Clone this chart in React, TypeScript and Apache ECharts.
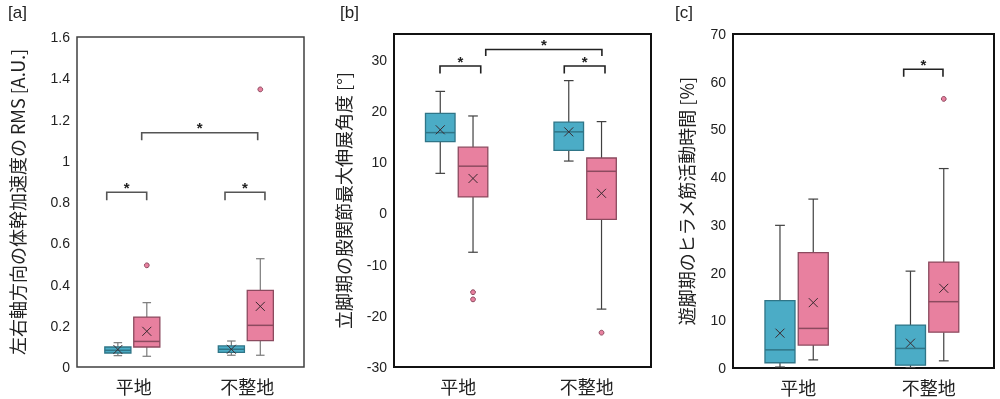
import React, { useEffect, useRef } from "react";
import * as echarts from "echarts";

const categories = ["平地", "不整地"];

// each row: [low whisker, Q1, median, Q3, high whisker, mean]
const rmsFlat = [0.055, 0.068, 0.081, 0.097, 0.118, 0.085];
const rmsFlatB = [0.052, 0.097, 0.124, 0.242, 0.312, 0.173];
const rmsRough = [0.057, 0.071, 0.086, 0.102, 0.126, 0.086];
const rmsRoughB = [0.057, 0.128, 0.202, 0.372, 0.525, 0.294];
const rmsBlue = [rmsFlat, rmsRough];
const rmsPink = [rmsFlatB, rmsRoughB];
const rmsPinkOutliers = [[0, 0.493], [1, 1.346]];

const hipBlue = [
  [7.8, 14.0, 15.75, 19.5, 23.8, 16.3],
  [10.2, 12.3, 15.9, 17.8, 25.9, 15.9],
];
const hipPink = [
  [-7.6, 3.2, 9.2, 12.9, 19.0, 6.8],
  [-18.7, -1.2, 8.2, 10.8, 17.9, 3.9],
];
const hipPinkOutliers = [[0, -15.4], [0, -16.8], [1, -23.3]];

const solBlue = [
  [0.2, 1.1, 3.8, 14.1, 29.9, 7.3],
  [0.1, 0.6, 4.1, 9.0, 20.3, 5.2],
];
const solPink = [
  [1.7, 4.8, 8.3, 24.2, 35.4, 13.7],
  [1.5, 7.5, 13.9, 22.2, 41.8, 16.7],
];
const solPinkOutliers = [[1, 56.4]];

// significance brackets: [startCat, startOffset, endCat, endOffset, top, tickEnd]
const rmsBrackets = [
  [0, -0.238, 0, 0.114, 0.847, 0.808],
  [1, -0.196, 1, 0.156, 0.847, 0.808],
  [0, 0.07, 1, 0.092, 1.136, 1.1],
];
const hipBrackets = [
  [0, -0.142, 0, 0.175, 28.75, 27.3],
  [1, -0.175, 1, 0.142, 28.75, 27.3],
  [0, 0.214, 1, 0.118, 31.96, 30.7],
];
const solBrackets = [[1, -0.192, 1, 0.109, 62.6, 61.05]];

const yNames = [
  "左右軸方向の体幹加速度の RMS [A.U.]",
  "立脚期の股関節最大伸展角度 [°]",
  "遊脚期のヒラメ筋活動時間 [%]",
];
const panelLabels = ["[a]", "[b]", "[c]"];

const BLUE = "#4BACC6";
const BLUE_EDGE = "#2F7587";
const PINK = "#E8809F";
const PINK_EDGE = "#8C4A5F";
const BOX_W = 0.23;
const CAP_W = 0.075;
const OFF_BLUE = -0.14;
const OFF_PINK = 0.115;

function makeBox(off: number, fill: string, edge: string, whisker: string) {
  return (params: any, api: any) => {
    const cat = api.value(0);
    const band = api.size([1, 0])[0];
    const cx = api.coord([cat, 0])[0] + off * band;
    const w = BOX_W * band;
    const cap = CAP_W * band;
    const py = (i: number) => api.coord([cat, api.value(i)])[1];
    const lo = py(1), q1 = py(2), md = py(3), q3 = py(4), hi = py(5), mn = py(6);
    const ls = { stroke: whisker, lineWidth: 1.2 };
    const xs = { stroke: "#3a2a30", lineWidth: 1 };
    return {
      type: "group",
      children: [
        { type: "line", shape: { x1: cx, y1: hi, x2: cx, y2: q3 }, style: ls },
        { type: "line", shape: { x1: cx - cap / 2, y1: hi, x2: cx + cap / 2, y2: hi }, style: ls },
        { type: "line", shape: { x1: cx, y1: q1, x2: cx, y2: lo }, style: ls },
        { type: "line", shape: { x1: cx - cap / 2, y1: lo, x2: cx + cap / 2, y2: lo }, style: ls },
        { type: "rect", shape: { x: cx - w / 2, y: q3, width: w, height: q1 - q3 }, style: { fill, stroke: edge, lineWidth: 1.3 } },
        { type: "line", shape: { x1: cx - w / 2, y1: md, x2: cx + w / 2, y2: md }, style: { stroke: edge, lineWidth: 1.5 } },
        { type: "line", shape: { x1: cx - 4.5, y1: mn - 4.5, x2: cx + 4.5, y2: mn + 4.5 }, style: xs },
        { type: "line", shape: { x1: cx - 4.5, y1: mn + 4.5, x2: cx + 4.5, y2: mn - 4.5 }, style: xs },
      ],
    };
  };
}

function makeOutlier(off: number) {
  return (params: any, api: any) => {
    const cat = api.value(0);
    const band = api.size([1, 0])[0];
    const p = api.coord([cat, api.value(1)]);
    return {
      type: "circle",
      shape: { cx: p[0] + off * band, cy: p[1], r: 2.4 },
      style: { fill: PINK, stroke: PINK_EDGE, lineWidth: 1 },
    };
  };
}

function makeBracket(color: string) {
  return (params: any, api: any) => {
    const band = api.size([1, 0])[0];
    const x1 = api.coord([api.value(0), 0])[0] + api.value(1) * band;
    const x2 = api.coord([api.value(2), 0])[0] + api.value(3) * band;
    const yt = api.coord([api.value(0), api.value(4)])[1];
    const yb = api.coord([api.value(0), api.value(5)])[1];
    return {
      type: "group",
      children: [
        {
          type: "polyline",
          shape: { points: [[x1, yb], [x1, yt], [x2, yt], [x2, yb]] },
          style: { stroke: color, lineWidth: 1.6, fill: null },
        },
        {
          type: "text",
          style: {
            text: "*",
            x: (x1 + x2) / 2,
            y: yt - 5,
            align: "center",
            verticalAlign: "middle",
            fontSize: 15,
            fontWeight: "bold",
            fontFamily: "Liberation Sans",
            fill: "#222",
          },
        },
      ],
    };
  };
}

export default function App() {
  const ref = useRef<HTMLDivElement>(null);
  useEffect(() => {
    if (!ref.current) return;
    const chart = echarts.init(ref.current, null, { renderer: "svg" });
    const grids = [
      { left: 77, top: 37, width: 227, height: 330, show: true, borderColor: "#404040", borderWidth: 1.5 },
      { left: 394, top: 34, width: 257, height: 333, show: true, borderColor: "#111", borderWidth: 2 },
      { left: 733, top: 34, width: 261, height: 334, show: true, borderColor: "#111", borderWidth: 2 },
    ];
    const yCfg = [
      { min: 0, max: 1.6, interval: 0.2, gap: 51 },
      { min: -30, max: 35, interval: 10, gap: 42 },
      { min: 0, max: 70, interval: 10, gap: 38 },
    ];
    const blues = [rmsBlue, hipBlue, solBlue];
    const pinks = [rmsPink, hipPink, solPink];
    const outs = [rmsPinkOutliers, hipPinkOutliers, solPinkOutliers];
    const brs = [rmsBrackets, hipBrackets, solBrackets];
    const whisk = ["#7a7a7a", "#404040", "#404040"];
    const brColor = ["#555", "#222", "#222"];

    const series: any[] = [];
    for (let i = 0; i < 3; i++) {
      series.push({
        type: "custom",
        xAxisIndex: i,
        yAxisIndex: i,
        renderItem: makeBox(OFF_BLUE, BLUE, BLUE_EDGE, whisk[i]),
        encode: { x: 0, y: [1, 2, 3, 4, 5, 6] },
        data: blues[i].map((d, k) => [k, ...d]),
      });
      series.push({
        type: "custom",
        xAxisIndex: i,
        yAxisIndex: i,
        renderItem: makeBox(OFF_PINK, PINK, PINK_EDGE, whisk[i]),
        encode: { x: 0, y: [1, 2, 3, 4, 5, 6] },
        data: pinks[i].map((d, k) => [k, ...d]),
      });
      series.push({
        type: "custom",
        xAxisIndex: i,
        yAxisIndex: i,
        renderItem: makeOutlier(OFF_PINK),
        encode: { x: 0, y: 1 },
        data: outs[i],
      });
      series.push({
        type: "custom",
        xAxisIndex: i,
        yAxisIndex: i,
        renderItem: makeBracket(brColor[i]),
        encode: { x: [0, 2], y: [4, 5] },
        data: brs[i],
        clip: false,
      });
    }

    chart.setOption({
      animation: false,
      grid: grids,
      xAxis: [0, 1, 2].map((i) => ({
        type: "category",
        gridIndex: i,
        data: categories,
        axisLine: { show: false },
        axisTick: { show: false },
        splitLine: { show: false },
        axisLabel: { fontSize: 18, color: "#222", fontFamily: "Noto Sans CJK JP", margin: 10 },
      })),
      yAxis: [0, 1, 2].map((i) => ({
        type: "value",
        gridIndex: i,
        min: yCfg[i].min,
        max: yCfg[i].max,
        interval: yCfg[i].interval,
        axisLine: { show: false },
        axisTick: { show: false },
        splitLine: { show: false },
        axisLabel: { fontSize: 14, color: "#222", fontFamily: "Liberation Sans", margin: 7, showMaxLabel: i !== 1 },
        name: yNames[i],
        nameLocation: "middle",
        nameGap: yCfg[i].gap,
        nameTextStyle: { fontSize: 18, color: "#222", fontFamily: "Noto Sans CJK JP" },
      })),
      graphic: panelLabels.map((t, i) => ({
        type: "text",
        left: [8, 340, 675][i],
        top: 4,
        style: { text: t, fontSize: 17, fontFamily: "Liberation Sans", fill: "#222" },
      })),
      series,
    });
    return () => chart.dispose();
  }, []);
  return <div ref={ref} style={{ position: "fixed", left: 0, top: 0, width: 1000, height: 399 }} />;
}
